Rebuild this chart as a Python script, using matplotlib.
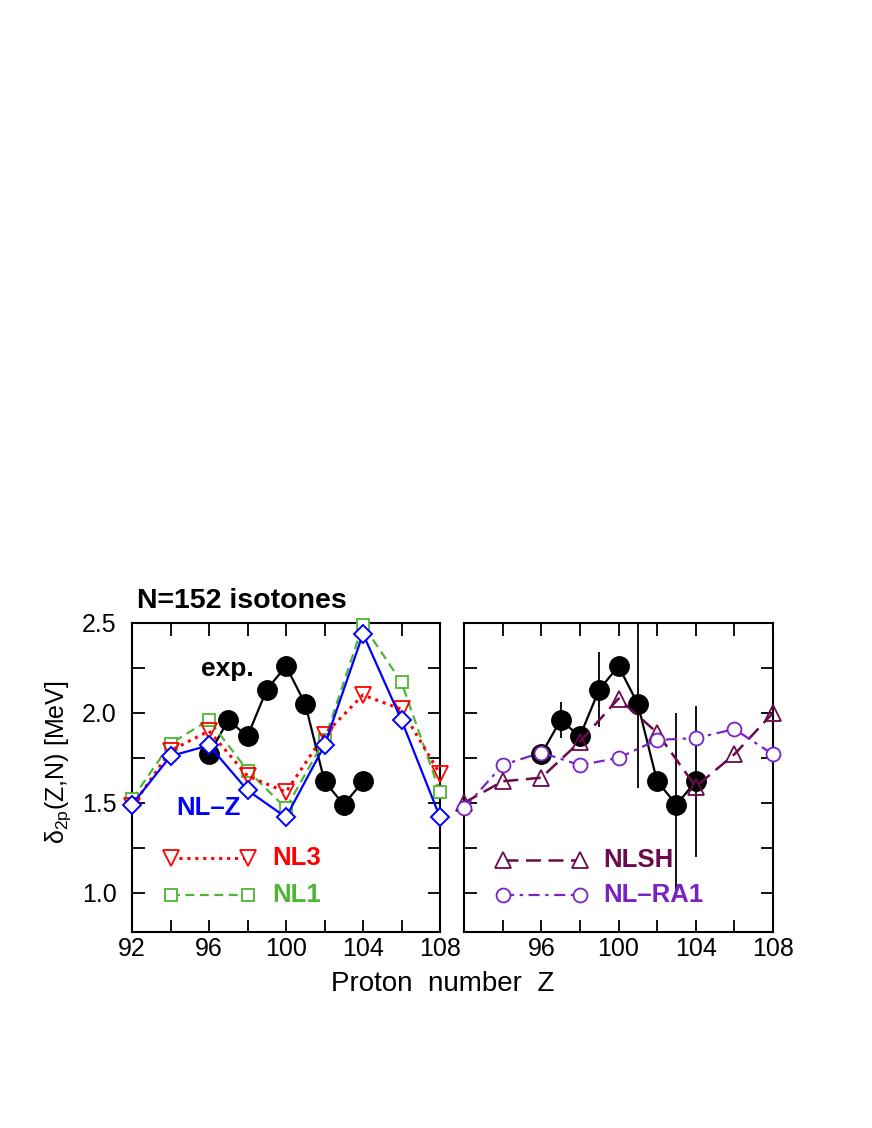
import matplotlib
matplotlib.use("Agg")
import matplotlib.pyplot as plt
from matplotlib.ticker import MultipleLocator, FixedLocator

plt.rcParams['font.family'] = ['Liberation Sans', 'DejaVu Sans']
plt.rcParams['mathtext.fontset'] = 'custom'
plt.rcParams['mathtext.rm'] = 'Liberation Sans'

# ---------------- data ----------------
Z_theory = [92, 94, 96, 98, 100, 102, 104, 106, 108]
nlz = [1.49, 1.76, 1.82, 1.57, 1.42, 1.82, 2.44, 1.96, 1.42]
nl3 = [1.48, 1.79, 1.90, 1.65, 1.56, 1.88, 2.10, 2.02, 1.66]
nl1 = [1.52, 1.83, 1.96, 1.68, 1.47, 1.85, 2.49, 2.17, 1.56]
nlsh = [1.50, 1.62, 1.64, 1.84, 2.08, 1.89, 1.59, 1.77, 2.00]
nlra1 = [1.47, 1.71, 1.78, 1.71, 1.75, 1.85, 1.86, 1.91, 1.77]

Z_exp = [96, 97, 98, 99, 100, 101, 102, 103, 104]
exp_vals = [1.77, 1.96, 1.87, 2.13, 2.26, 2.05, 1.62, 1.49, 1.62]
exp_err = [0.0, 0.10, 0.0, 0.21, 0.0, 0.47, 0.0, 0.51, 0.42]

xticks_left = [92, 96, 100, 104, 108]
xticks_right = [96, 100, 104, 108]
yticks = [1.0, 1.5, 2.0, 2.5]

# colours
c_nlz = '#0000ff'
c_nl3 = '#ff0000'
c_nl1 = '#4fb534'
c_nlsh = '#6b0a4c'
c_nlra1 = '#7a22c4'

W, H = 872, 1128
fig = plt.figure(figsize=(W / 100, H / 100), dpi=100)

def px_axes(x0, x1, y0, y1):
    return fig.add_axes([x0 / W, 1 - y1 / H, (x1 - x0) / W, (y1 - y0) / H])

axL = px_axes(132, 440, 623, 931.5)
axR = px_axes(464, 773, 623, 931.5)

for ax in (axL, axR):
    ax.set_xlim(92, 108)
    ax.set_ylim(0.785, 2.5)
    ax.xaxis.set_minor_locator(MultipleLocator(2))
    ax.yaxis.set_major_locator(FixedLocator(yticks))
    ax.yaxis.set_minor_locator(MultipleLocator(0.25))
    ax.tick_params(which='both', direction='in', top=True, right=True,
                   length=9, width=1.3, labelsize=18)
    ax.tick_params(axis='x', which='both', pad=4)
    ax.tick_params(axis='y', which='both', pad=11)
    for s in ax.spines.values():
        s.set_linewidth(1.5)

axL.set_xticks(xticks_left)
axR.set_xticks(xticks_right)
axL.set_yticklabels([f'{v:.1f}' for v in yticks])
axR.set_yticklabels([])

# -------- left panel --------
axL.plot(Z_theory, nl1, linestyle=(0, (4, 2.5)), color=c_nl1, lw=1.6,
         marker='s', ms=8.5, mfc='white', mec=c_nl1, mew=1.3, clip_on=False, zorder=3)
axL.plot(Z_theory, nl3, linestyle=(0, (1, 1.6)), color=c_nl3, lw=2.2,
         marker='v', ms=11, mfc='none', mec=c_nl3, mew=1.3, clip_on=False, zorder=4)
axL.plot(Z_theory, nlz, linestyle='-', color=c_nlz, lw=1.6,
         marker='D', ms=9.5, mfc='white', mec=c_nlz, mew=1.4, clip_on=False, zorder=5)
axL.plot(Z_exp, exp_vals, '-', color='black', lw=1.6,
         marker='o', ms=14, mfc='black', mec='black', zorder=2)

axL.text(95.6, 2.245, 'exp.', fontsize=19, fontweight='bold', va='center', ha='left')
axL.text(94.3, 1.47, 'NL\u2013Z', fontsize=18.5, fontweight='bold', color=c_nlz,
         va='center', ha='left')

# legend-like samples
axL.plot([94, 98], [1.195, 1.195], linestyle=(0, (1, 1.6)), color=c_nl3, lw=2.2,
         marker='v', ms=11, mfc='white', mec=c_nl3, mew=1.3)
axL.text(99.3, 1.195, 'NL3', fontsize=18.5, fontweight='bold', color=c_nl3,
         va='center', ha='left')
axL.plot([94, 98], [0.99, 0.99], linestyle=(0, (4, 2.5)), color=c_nl1, lw=1.6,
         marker='s', ms=8.5, mfc='white', mec=c_nl1, mew=1.3)
axL.text(99.3, 0.99, 'NL1', fontsize=18.5, fontweight='bold', color=c_nl1,
         va='center', ha='left')

# -------- right panel --------
axR.errorbar(Z_exp, exp_vals, yerr=exp_err, fmt='-o', color='black', lw=1.6,
             ms=14, mfc='black', mec='black', elinewidth=1.3, capsize=0, zorder=2)
axR.plot(Z_theory, nlsh, linestyle=(0, (6, 3)), color=c_nlsh, lw=1.8,
         marker='^', ms=12, mfc='none', mec=c_nlsh, mew=1.3, clip_on=False, zorder=3)
axR.plot(Z_theory, nlra1, linestyle=(0, (5, 2.5, 1.5, 2.5)), color=c_nlra1, lw=1.6,
         marker='o', ms=10, mfc='white', mec=c_nlra1, mew=1.3, clip_on=False, zorder=4)

axR.plot([94, 98], [1.185, 1.185], linestyle=(0, (6, 3)), color=c_nlsh, lw=1.8,
         marker='^', ms=12, mfc='white', mec=c_nlsh, mew=1.3)
axR.text(99.2, 1.185, 'NLSH', fontsize=18.5, fontweight='bold', color=c_nlsh,
         va='center', ha='left')
axR.plot([94, 98], [0.99, 0.99], linestyle=(0, (5, 2.5, 1.5, 2.5)), color=c_nlra1, lw=1.6,
         marker='o', ms=10, mfc='white', mec=c_nlra1, mew=1.3)
axR.text(99.2, 0.99, 'NL\u2013RA1', fontsize=18.5, fontweight='bold', color=c_nlra1,
         va='center', ha='left')

# -------- labels --------
fig.text(137 / W, 1 - 601 / H, 'N=152 isotones', fontsize=20.5, fontweight='bold',
         ha='left', va='center')
fig.text(58 / W, 1 - 762 / H, '\u03b4$_{\\mathrm{2p}}$(Z,N) [MeV]', fontsize=18,
         rotation=90, ha='center', va='center')
fig.text(443 / W, 1 - 984 / H, 'Proton  number  Z', fontsize=20,
         ha='center', va='center')

fig.savefig('out.png', dpi=100)
